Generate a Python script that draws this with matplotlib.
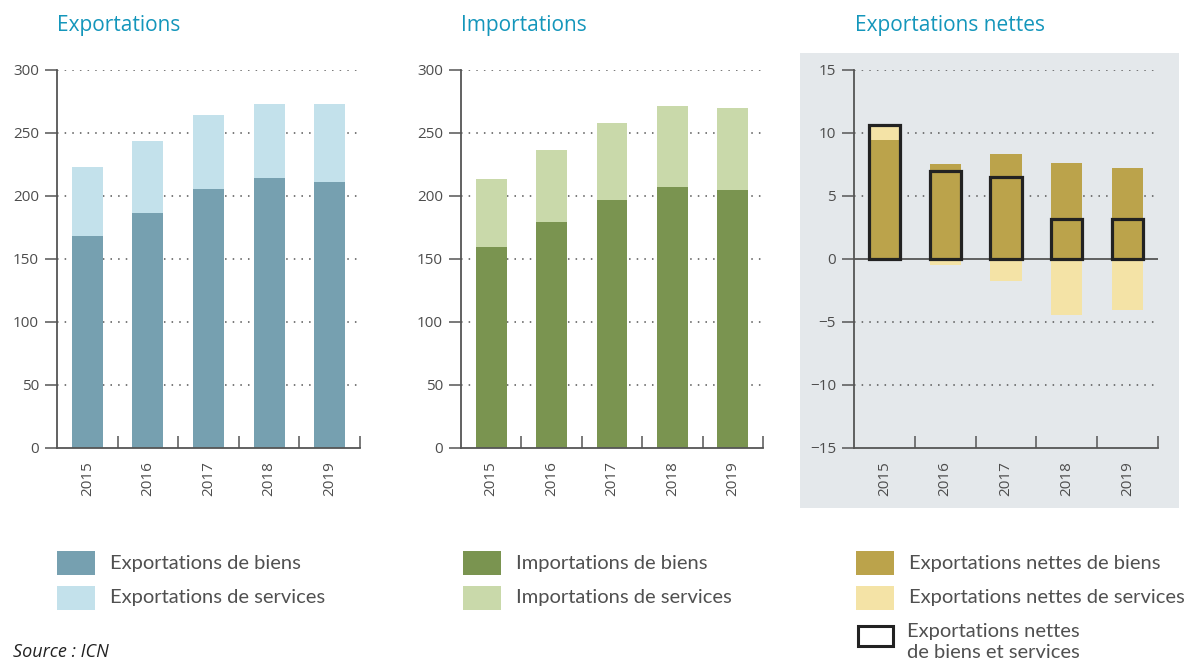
import numpy as np
import matplotlib
matplotlib.use('Agg')
import matplotlib.pyplot as plt
from matplotlib.patches import Rectangle

# Data
years = ['2015', '2016', '2017', '2018', '2019']
exp_goods = [168, 186, 205, 214, 211]
exp_services = [55, 57, 59, 59, 62]
imp_goods = [159, 179, 196.5, 207, 204.5]
imp_services = [54, 57, 61, 64, 65]
net_goods = [9.4, 7.5, 8.3, 7.6, 7.2]
net_services = [1.2, -0.55, -1.8, -4.5, -4.05]
net_total = [10.6, 6.95, 6.5, 3.1, 3.15]

titles = ['Exportations', 'Importations', 'Exportations nettes']
legend_left = [['Exportations de biens', 'Exportations de services'],
               ['Importations de biens', 'Importations de services'],
               ['Exportations nettes de biens', 'Exportations nettes de services']]

c_exp = ['#76a0b0', '#c3e1eb']
c_imp = ['#7a9450', '#c9d9aa']
c_net = ['#bba34b', '#f4e3a6']
title_color = '#1496bb'
axis_color = '#555555'
bg_grey = '#e4e8eb'

plt.rcParams['font.family'] = ['Open Sans', 'DejaVu Sans']

W, H = 1185, 662
fig = plt.figure(figsize=(W / 100, H / 100), dpi=100)

# grey panel behind the net exports chart
fig.patches.append(Rectangle((800 / W, 1 - 508 / H), 379 / W, 455 / H,
                             transform=fig.transFigure, facecolor=bg_grey,
                             edgecolor='none', zorder=-5))


def px_axes(left, right, top, bottom):
    return fig.add_axes([left / W, 1 - bottom / H, (right - left) / W, (bottom - top) / H])


def style_axes(ax, ylim, yticks, grid_vals):
    x = np.arange(len(years))
    ax.set_facecolor('none')
    ax.set_xlim(-0.5, 4.5)
    ax.set_ylim(*ylim)
    for s in ['top', 'right']:
        ax.spines[s].set_visible(False)
    for s in ['left', 'bottom']:
        ax.spines[s].set_color(axis_color)
        ax.spines[s].set_linewidth(1.3)
    ax.set_yticks(yticks)
    ax.set_yticklabels(['\u2212' + str(abs(v)) if v < 0 else str(v) for v in yticks])
    ax.tick_params(axis='y', length=9, width=1.1, color=axis_color, pad=4,
                   labelsize=11, labelcolor='#4d4d4d')
    ax.set_xticks(x)
    ax.set_xticklabels(years, rotation=90)
    ax.tick_params(axis='x', which='major', length=0, pad=10,
                   labelsize=11, labelcolor='#4d4d4d')
    ax.set_xticks(np.arange(0.5, 5, 1), minor=True)
    ax.tick_params(axis='x', which='minor', direction='in', length=9,
                   width=1.1, color=axis_color)
    for g in grid_vals:
        ax.axhline(g, color='#555555', lw=1.1, ls=(0, (1, 4)), zorder=0.5)
    return x


# Exportations
ax1 = px_axes(57, 360, 69.5, 447.5)
x = style_axes(ax1, (0, 300), [0, 50, 100, 150, 200, 250, 300], [50, 100, 150, 200, 250, 300])
ax1.bar(x, exp_goods, 0.51, color=c_exp[0], zorder=2)
ax1.bar(x, exp_services, 0.51, bottom=exp_goods, color=c_exp[1], zorder=2)

# Importations
ax2 = px_axes(461, 763, 69.5, 447.5)
x = style_axes(ax2, (0, 300), [0, 50, 100, 150, 200, 250, 300], [50, 100, 150, 200, 250, 300])
ax2.bar(x, imp_goods, 0.51, color=c_imp[0], zorder=2)
ax2.bar(x, imp_services, 0.51, bottom=imp_goods, color=c_imp[1], zorder=2)

# Exportations nettes
ax3 = px_axes(854, 1158, 69.5, 447.5)
x = style_axes(ax3, (-15, 15), [-15, -10, -5, 0, 5, 10, 15], [-10, -5, 5, 10, 15])
ax3.bar(x, net_goods, 0.51, color=c_net[0], zorder=2)
serv_bottom = [g if s > 0 else 0 for g, s in zip(net_goods, net_services)]
ax3.bar(x, net_services, 0.51, bottom=serv_bottom, color=c_net[1], zorder=2)
ax3.axhline(0, color=axis_color, lw=1.3, zorder=3)
ax3.bar(x, net_total, 0.51, fill=False, edgecolor='#222222', lw=2.3, zorder=4)

# titles
for xp, t in zip([57, 461, 855], titles):
    fig.text(xp / W, 1 - 31 / H, t, color=title_color, fontsize=15,
             ha='left', va='baseline')

# legends
leg_font = ['Lato', 'DejaVu Sans']
col_x = [57, 463, 856]
row_y = [563, 598]
for cx, labels, cols in zip(col_x, legend_left, [c_exp, c_imp, c_net]):
    for ry, lab, c in zip(row_y, labels, cols):
        fig.patches.append(Rectangle((cx / W, 1 - (ry + 12) / H), 38 / W, 24 / H,
                                     transform=fig.transFigure, facecolor=c,
                                     edgecolor='none'))
        fig.text((cx + 53) / W, 1 - ry / H, lab, fontsize=14.5, color='#505050',
                 family=leg_font, ha='left', va='center')

fig.patches.append(Rectangle((857.5 / W, 1 - 645.5 / H), 35 / W, 20 / H,
                             transform=fig.transFigure, facecolor='white',
                             edgecolor='#222222', lw=2.2))
fig.text(907 / W, 1 - 632 / H, 'Exportations nettes', fontsize=14.5,
         color='#505050', family=leg_font, ha='left', va='center')
fig.text(907 / W, 1 - 652 / H, 'de biens et services', fontsize=14.5,
         color='#505050', family=leg_font, ha='left', va='center')

fig.text(13 / W, 1 - 661 / H, 'Source : ICN', fontsize=13, style='italic',
         color='#222222', ha='left', va='bottom')

fig.savefig('out.png', dpi=100)
